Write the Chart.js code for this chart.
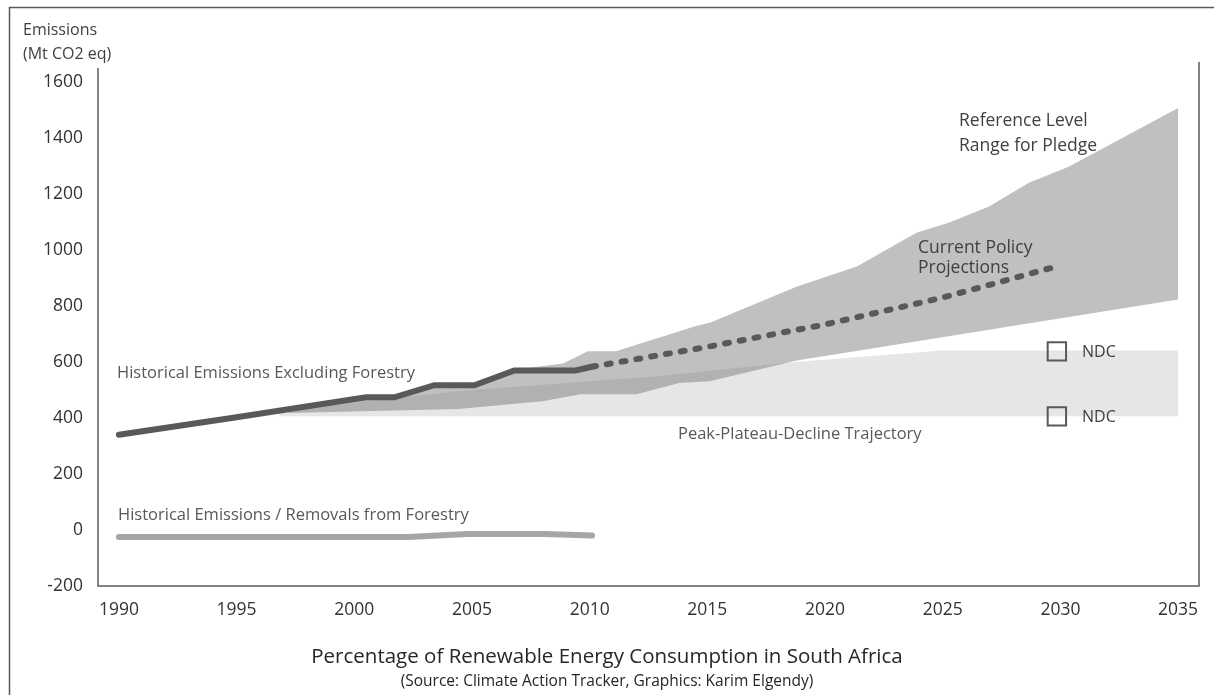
<!DOCTYPE html>
<html>
<head>
<meta charset="utf-8">
<script src="https://cdn.jsdelivr.net/npm/chart.js@4.4.1/dist/chart.umd.min.js"></script>
<style>
  html, body { margin: 0; padding: 0; background: #fff; }
  #wrap { width: 1214px; height: 695px; }
</style>
</head>
<body>
<div id="wrap"><canvas id="emissions" width="1214" height="695"></canvas></div>
<script>
// axis ticks
const xTicks = [1990, 1995, 2000, 2005, 2010, 2015, 2020, 2025, 2030, 2035];
const yTicks = [-200, 0, 200, 400, 600, 800, 1000, 1200, 1400, 1600];

// historical emissions excluding forestry
const histYears = [1990, 1995, 2000.5, 2001.7, 2003.4, 2005.1, 2006.8, 2009.4, 2010.1];
const histValues = [340, 403, 474, 474, 517, 517, 570, 570, 583];

// current policy projections (dotted)
const projYears = [2010.1, 2015, 2020, 2025, 2030];
const projValues = [583, 654, 734, 830, 945];

// forestry emissions / removals
const forestYears = [1990, 2002.3, 2004.8, 2008.1, 2010.1];
const forestValues = [-25, -25, -14, -14, -20];

// reference level range for pledge
const refUpperYears = [1997.2, 2000.5, 2001.7, 2003.4, 2005.1, 2006.8, 2008.87, 2009.92, 2011.11, 2014.45, 2015.13, 2018.81, 2021.35, 2023.88, 2025.28, 2026.97, 2028.66, 2030.35, 2035];
const refUpperValues = [420, 474, 474, 517, 517, 572, 595, 638, 638, 727, 741, 870, 941, 1062, 1098, 1155, 1240, 1297, 1507];
const refLowerYears = [1997.2, 2004.4, 2008.0, 2009.6, 2012.0, 2013.8, 2015.1, 2018.8, 2035];
const refLowerValues = [418, 432, 460, 485, 485, 525, 531, 605, 823];

// peak-plateau-decline trajectory
const ppdUpperYears = [1996.8, 2000.4, 2004.6, 2012.9, 2018.7, 2025, 2035];
const ppdUpperValues = [416, 460, 497, 549, 600, 641, 641];
const ppdLowerYears = [1996.8, 2035];
const ppdLowerValues = [406, 406];

// NDC markers
const ndcYears = [2029.85, 2029.85];
const ndcValues = [638, 406];

const FONT = "'Open Sans', sans-serif";
const toPoints = (xs, ys) => xs.map((x, i) => ({ x: x, y: ys[i] }));

const notes = [
    { text: 'Emissions', x: 23, y: 30, size: 16, color: '#404040' },
    { text: '(Mt CO2 eq)', x: 23, y: 54, size: 16, color: '#404040' },
    { text: 'Historical Emissions Excluding Forestry', x: 117, y: 373, size: 16.5, color: '#595959' },
    { text: 'Historical Emissions / Removals from Forestry', x: 118, y: 515, size: 16.5, color: '#595959' },
    { text: 'Peak-Plateau-Decline Trajectory', x: 678, y: 434, size: 16.5, color: '#595959' },
    { text: 'Current Policy', x: 918, y: 248, size: 17.5, color: '#404040' },
    { text: 'Projections', x: 918, y: 268, size: 17.5, color: '#404040' },
    { text: 'Reference Level', x: 959, y: 121, size: 17.5, color: '#404040' },
    { text: 'Range for Pledge', x: 959, y: 146, size: 17.5, color: '#404040' },
    { text: 'NDC', x: 1082, y: 352, size: 16, color: '#404040' },
    { text: 'NDC', x: 1082, y: 417, size: 16, color: '#404040' }
];

const framePlugin = {
    id: 'frame',
    afterDraw(chart) {
        const ctx = chart.ctx;
        const a = chart.chartArea;
        ctx.save();
        ctx.strokeStyle = '#595959';
        ctx.lineWidth = 1.5;
        // outer frame
        ctx.beginPath();
        ctx.moveTo(9.5, chart.height);
        ctx.lineTo(9.5, 7.5);
        ctx.lineTo(chart.width, 7.5);
        ctx.stroke();
        // plot box (no top)
        ctx.beginPath();
        ctx.moveTo(a.left, a.top);
        ctx.lineTo(a.left, a.bottom);
        ctx.lineTo(a.right, a.bottom);
        ctx.lineTo(a.right, a.top - 6);
        ctx.stroke();

        ctx.textBaseline = 'middle';
        ctx.textAlign = 'left';
        notes.forEach(n => {
            ctx.font = n.size + 'px ' + FONT;
            ctx.fillStyle = n.color;
            ctx.fillText(n.text, n.x, n.y);
        });

        ctx.textAlign = 'center';
        ctx.fillStyle = '#262626';
        ctx.font = '20.5px ' + FONT;
        ctx.fillText('Percentage of Renewable Energy Consumption in South Africa', chart.width / 2, 657);
        ctx.font = '15.5px ' + FONT;
        ctx.fillText('(Source: Climate Action Tracker, Graphics: Karim Elgendy)', chart.width / 2, 682);
        ctx.restore();
    }
};

const config = {
    type: 'line',
    data: {
        datasets: [
            { label: 'refLower', data: toPoints(refLowerYears, refLowerValues), borderWidth: 0, pointRadius: 0, fill: false, order: 4 },
            { label: 'refUpper', data: toPoints(refUpperYears, refUpperValues), borderWidth: 0, pointRadius: 0, fill: 0, backgroundColor: '#c0c0c2', order: 4 },
            { label: 'ppdLower', data: toPoints(ppdLowerYears, ppdLowerValues), borderWidth: 0, pointRadius: 0, fill: false, order: 3 },
            { label: 'ppdUpper', data: toPoints(ppdUpperYears, ppdUpperValues), borderWidth: 0, pointRadius: 0, fill: 2, backgroundColor: 'rgba(95,95,95,0.156)', order: 3 },
            { label: 'Forestry', data: toPoints(forestYears, forestValues), borderColor: '#a6a6a6', borderWidth: 6, borderCapStyle: 'round', pointRadius: 0, fill: false, order: 2 },
            { label: 'Projection', data: toPoints(projYears, projValues), borderColor: '#595959', borderWidth: 6, borderDash: [4, 11], borderCapStyle: 'round', pointRadius: 0, fill: false, order: 1 },
            { label: 'Historical', data: toPoints(histYears, histValues), borderColor: '#595959', borderWidth: 6, borderCapStyle: 'round', pointRadius: 0, fill: false, order: 1 },
            { label: 'NDC', data: toPoints(ndcYears, ndcValues), showLine: false, pointStyle: 'rect', pointRadius: 13, pointBorderWidth: 2, pointBorderColor: '#595959', pointBackgroundColor: 'rgba(0,0,0,0)', order: 0 }
        ]
    },
    options: {
        responsive: false,
        animation: false,
        layout: { padding: { top: 68, right: 10, left: 0, bottom: 0 } },
        plugins: {
            legend: { display: false },
            tooltip: { enabled: false }
        },
        scales: {
            x: {
                type: 'linear',
                min: 1989.112,
                max: 2035.888,
                afterBuildTicks: s => { s.ticks = xTicks.map(v => ({ value: v })); },
                afterFit: s => { s.height = 109; },
                grid: { display: false, drawTicks: false },
                border: { display: false },
                ticks: { padding: 14, color: '#333333', font: { family: FONT, size: 17.5 }, maxRotation: 0, callback: v => String(v) }
            },
            y: {
                min: -200,
                max: 1650,
                afterBuildTicks: s => { s.ticks = yTicks.map(v => ({ value: v })); },
                afterFit: s => { s.width = 98; },
                grid: { display: false, drawTicks: false },
                border: { display: false },
                ticks: { padding: 15, color: '#333333', font: { family: FONT, size: 17.5 }, callback: v => String(v) }
            }
        }
    },
    plugins: [framePlugin]
};

new Chart(document.getElementById('emissions'), config);
</script>
</body>
</html>
